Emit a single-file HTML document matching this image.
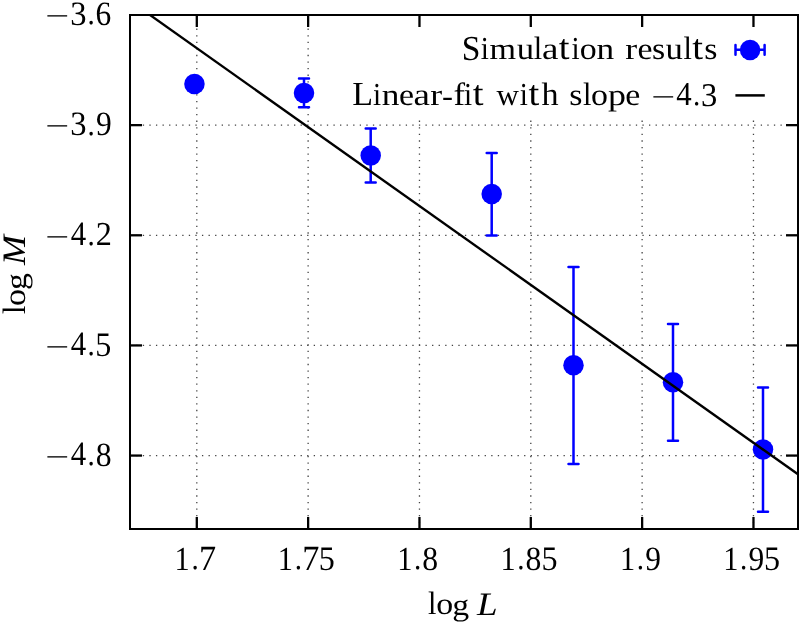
<!DOCTYPE html><html><head><meta charset="utf-8"><style>html,body{margin:0;padding:0;background:#fff}svg{display:block;will-change:transform}text{font-family:"Liberation Serif",serif;font-size:32.8px;fill:#000;font-variant-ligatures:none;font-kerning:none;text-rendering:geometricPrecision}</style></head><body>
<svg width="802" height="625" viewBox="0 0 802 625">
<rect width="802" height="625" fill="#fff"/>
<g stroke="#444" stroke-width="1.3" stroke-dasharray="1.3 5.274" fill="none">
<g stroke-dashoffset="0.5">
<line x1="196.80" y1="529" x2="196.80" y2="15"/>
<line x1="308.13" y1="529" x2="308.13" y2="15"/>
<line x1="419.47" y1="529" x2="419.47" y2="15"/>
<line x1="530.80" y1="529" x2="530.80" y2="15"/>
<line x1="642.13" y1="529" x2="642.13" y2="15"/>
<line x1="753.47" y1="529" x2="753.47" y2="15"/>
</g><g stroke-dashoffset="0.35">
<line x1="130" y1="125.14" x2="798" y2="125.14"/>
<line x1="130" y1="235.29" x2="798" y2="235.29"/>
<line x1="130" y1="345.43" x2="798" y2="345.43"/>
<line x1="130" y1="455.57" x2="798" y2="455.57"/>
</g></g>
<rect x="335" y="16" width="462" height="102" fill="#fff"/>
<g stroke="#000" stroke-width="2.3" fill="none">
<line x1="196.80" y1="529" x2="196.80" y2="517.0"/><line x1="196.80" y1="15" x2="196.80" y2="27.0"/>
<line x1="308.13" y1="529" x2="308.13" y2="517.0"/><line x1="308.13" y1="15" x2="308.13" y2="27.0"/>
<line x1="419.47" y1="529" x2="419.47" y2="517.0"/><line x1="419.47" y1="15" x2="419.47" y2="27.0"/>
<line x1="530.80" y1="529" x2="530.80" y2="517.0"/><line x1="530.80" y1="15" x2="530.80" y2="27.0"/>
<line x1="642.13" y1="529" x2="642.13" y2="517.0"/><line x1="642.13" y1="15" x2="642.13" y2="27.0"/>
<line x1="753.47" y1="529" x2="753.47" y2="517.0"/><line x1="753.47" y1="15" x2="753.47" y2="27.0"/>
<line x1="130" y1="125.14" x2="142.0" y2="125.14"/><line x1="798" y1="125.14" x2="786.0" y2="125.14"/>
<line x1="130" y1="235.29" x2="142.0" y2="235.29"/><line x1="798" y1="235.29" x2="786.0" y2="235.29"/>
<line x1="130" y1="345.43" x2="142.0" y2="345.43"/><line x1="798" y1="345.43" x2="786.0" y2="345.43"/>
<line x1="130" y1="455.57" x2="142.0" y2="455.57"/><line x1="798" y1="455.57" x2="786.0" y2="455.57"/>
<rect x="130" y="15" width="668" height="514" stroke-width="2"/>
</g>
<g stroke="#0000ff" stroke-width="2.5" stroke-linecap="round" fill="none">
<path d="M304.0 78.4V107.35M299.0 78.4H309.0M299.0 107.35H309.0"/>
<path d="M370.7 128.45V182.6M365.7 128.45H375.7M365.7 182.6H375.7"/>
<path d="M491.7 152.9V235.5M486.7 152.9H496.7M486.7 235.5H496.7"/>
<path d="M573.5 266.9V463.9M568.5 266.9H578.5M568.5 463.9H578.5"/>
<path d="M673.0 323.9V440.85M668.0 323.9H678.0M668.0 440.85H678.0"/>
<path d="M763.0 387.5V511.8M758.0 387.5H768.0M758.0 511.8H768.0"/>
</g>
<g fill="#0000ff">
<circle cx="194.45" cy="83.9" r="10.25"/>
<circle cx="304.0" cy="93.0" r="10.25"/>
<circle cx="370.7" cy="155.6" r="10.25"/>
<circle cx="491.7" cy="194.0" r="10.25"/>
<circle cx="573.5" cy="365.2" r="10.25"/>
<circle cx="673.0" cy="382.2" r="10.25"/>
<circle cx="763.0" cy="449.6" r="10.25"/>
</g>
<clipPath id="c"><rect x="130" y="15" width="668" height="514"/></clipPath>
<line x1="128.86" y1="0" x2="810" y2="482.8" stroke="#000" stroke-width="2.35" clip-path="url(#c)"/>
<g stroke="#0000ff" stroke-width="2.5" stroke-linecap="round" fill="none"><path d="M735.5 49.8H764.6M735.5 45.0V54.7M764.6 45.0V54.7"/></g>
<circle cx="750.1" cy="50.05" r="10.25" fill="#0000ff"/>
<line x1="735.4" y1="95.4" x2="764.8" y2="95.4" stroke="#000" stroke-width="2.5"/>
<text><tspan x="461.79" y="59.62" font-size="35.06" textLength="18.68" lengthAdjust="spacingAndGlyphs">S</tspan><tspan x="480.69" y="59.25" font-size="32.15" textLength="8.10" lengthAdjust="spacingAndGlyphs">i</tspan><tspan x="489.56" y="59.25" font-size="30.39" textLength="26.55" lengthAdjust="spacingAndGlyphs">m</tspan><tspan x="516.81" y="59.30" font-size="31.31" textLength="17.35" lengthAdjust="spacingAndGlyphs">u</tspan><tspan x="533.80" y="59.25" font-size="32.41" textLength="8.40" lengthAdjust="spacingAndGlyphs">l</tspan><tspan x="542.08" y="59.30" font-size="31.05" textLength="16.42" lengthAdjust="spacingAndGlyphs">a</tspan><tspan x="558.78" y="59.26" font-size="35.41" textLength="10.75" lengthAdjust="spacingAndGlyphs">t</tspan><tspan x="571.60" y="59.25" font-size="32.15" textLength="8.10" lengthAdjust="spacingAndGlyphs">i</tspan><tspan x="579.77" y="59.30" font-size="30.92" textLength="16.93" lengthAdjust="spacingAndGlyphs">o</tspan><tspan x="596.58" y="59.25" font-size="30.39" textLength="17.64" lengthAdjust="spacingAndGlyphs">n</tspan><tspan x="614.37" y="59.25"> </tspan><tspan x="625.35" y="59.25" font-size="30.39" textLength="11.92" lengthAdjust="spacingAndGlyphs">r</tspan><tspan x="637.44" y="59.30" font-size="30.92" textLength="15.04" lengthAdjust="spacingAndGlyphs">e</tspan><tspan x="651.92" y="59.30" font-size="30.92" textLength="13.21" lengthAdjust="spacingAndGlyphs">s</tspan><tspan x="665.59" y="59.30" font-size="31.31" textLength="17.35" lengthAdjust="spacingAndGlyphs">u</tspan><tspan x="683.49" y="59.25" font-size="32.41" textLength="8.40" lengthAdjust="spacingAndGlyphs">l</tspan><tspan x="692.27" y="59.26" font-size="35.41" textLength="10.75" lengthAdjust="spacingAndGlyphs">t</tspan><tspan x="704.31" y="59.30" font-size="30.92" textLength="13.21" lengthAdjust="spacingAndGlyphs">s</tspan></text>
<text><tspan x="352.32" y="105.40" font-size="33.80" textLength="20.82" lengthAdjust="spacingAndGlyphs">L</tspan><tspan x="372.94" y="105.40" font-size="32.15" textLength="8.10" lengthAdjust="spacingAndGlyphs">i</tspan><tspan x="381.72" y="105.40" font-size="30.39" textLength="17.64" lengthAdjust="spacingAndGlyphs">n</tspan><tspan x="399.09" y="105.45" font-size="30.92" textLength="15.04" lengthAdjust="spacingAndGlyphs">e</tspan><tspan x="413.62" y="105.45" font-size="31.05" textLength="16.42" lengthAdjust="spacingAndGlyphs">a</tspan><tspan x="430.28" y="105.40" font-size="30.39" textLength="11.92" lengthAdjust="spacingAndGlyphs">r</tspan><tspan x="441.92" y="105.51" font-size="30.18" textLength="11.01" lengthAdjust="spacingAndGlyphs">-</tspan><tspan x="453.58" y="105.40" font-size="32.44" textLength="11.57" lengthAdjust="spacingAndGlyphs">f</tspan><tspan x="463.95" y="105.40" font-size="32.15" textLength="8.10" lengthAdjust="spacingAndGlyphs">i</tspan><tspan x="472.74" y="105.41" font-size="35.41" textLength="10.75" lengthAdjust="spacingAndGlyphs">t</tspan><tspan x="485.10" y="105.4"> </tspan><tspan x="496.45" y="105.46" font-size="30.55" textLength="22.36" lengthAdjust="spacingAndGlyphs">w</tspan><tspan x="519.74" y="105.40" font-size="32.15" textLength="8.10" lengthAdjust="spacingAndGlyphs">i</tspan><tspan x="528.53" y="105.41" font-size="35.41" textLength="10.75" lengthAdjust="spacingAndGlyphs">t</tspan><tspan x="541.60" y="105.40" font-size="32.41" textLength="17.08" lengthAdjust="spacingAndGlyphs">h</tspan><tspan x="558.91" y="105.4"> </tspan><tspan x="569.38" y="105.45" font-size="30.92" textLength="13.21" lengthAdjust="spacingAndGlyphs">s</tspan><tspan x="582.93" y="105.40" font-size="32.41" textLength="8.40" lengthAdjust="spacingAndGlyphs">l</tspan><tspan x="591.09" y="105.45" font-size="30.92" textLength="16.93" lengthAdjust="spacingAndGlyphs">o</tspan><tspan x="608.00" y="105.28" font-size="30.18" textLength="17.95" lengthAdjust="spacingAndGlyphs">p</tspan><tspan x="625.27" y="105.45" font-size="30.92" textLength="15.04" lengthAdjust="spacingAndGlyphs">e</tspan><tspan x="640.98" y="105.4"> </tspan><tspan x="651.34" y="106.13" font-size="27.5" textLength="23.99" lengthAdjust="spacingAndGlyphs">−</tspan><tspan x="676.29" y="105.40" font-size="33.33" textLength="15.44" lengthAdjust="spacingAndGlyphs">4</tspan><tspan x="693.06" y="105.04" font-size="30.18" textLength="7.27" lengthAdjust="spacingAndGlyphs">.</tspan><tspan x="701.00" y="105.79" font-size="33.18" textLength="16.28" lengthAdjust="spacingAndGlyphs">3</tspan></text>
<text><tspan x="174.56" y="569.50" font-size="33.67" textLength="15.19" lengthAdjust="spacingAndGlyphs">1</tspan><tspan x="191.42" y="569.06" font-size="31.08" textLength="7.27" lengthAdjust="spacingAndGlyphs">.</tspan><tspan x="199.11" y="570.21" font-size="35.57" textLength="17.15" lengthAdjust="spacingAndGlyphs">7</tspan></text>
<text><tspan x="277.79" y="569.50" font-size="33.67" textLength="15.19" lengthAdjust="spacingAndGlyphs">1</tspan><tspan x="294.65" y="569.06" font-size="31.08" textLength="7.27" lengthAdjust="spacingAndGlyphs">.</tspan><tspan x="302.34" y="570.21" font-size="35.57" textLength="17.15" lengthAdjust="spacingAndGlyphs">7</tspan><tspan x="318.74" y="569.88" font-size="34.55" textLength="16.05" lengthAdjust="spacingAndGlyphs">5</tspan></text>
<text><tspan x="397.23" y="569.50" font-size="33.67" textLength="15.19" lengthAdjust="spacingAndGlyphs">1</tspan><tspan x="414.08" y="569.06" font-size="31.08" textLength="7.27" lengthAdjust="spacingAndGlyphs">.</tspan><tspan x="422.37" y="569.88" font-size="34.02" textLength="15.86" lengthAdjust="spacingAndGlyphs">8</tspan></text>
<text><tspan x="500.46" y="569.50" font-size="33.67" textLength="15.19" lengthAdjust="spacingAndGlyphs">1</tspan><tspan x="517.32" y="569.06" font-size="31.08" textLength="7.27" lengthAdjust="spacingAndGlyphs">.</tspan><tspan x="525.61" y="569.88" font-size="34.02" textLength="15.86" lengthAdjust="spacingAndGlyphs">8</tspan><tspan x="541.41" y="569.88" font-size="34.55" textLength="16.05" lengthAdjust="spacingAndGlyphs">5</tspan></text>
<text><tspan x="619.89" y="569.50" font-size="33.67" textLength="15.19" lengthAdjust="spacingAndGlyphs">1</tspan><tspan x="636.75" y="569.06" font-size="31.08" textLength="7.27" lengthAdjust="spacingAndGlyphs">.</tspan><tspan x="645.23" y="569.88" font-size="34.17" textLength="15.75" lengthAdjust="spacingAndGlyphs">9</tspan></text>
<text><tspan x="723.13" y="569.50" font-size="33.67" textLength="15.19" lengthAdjust="spacingAndGlyphs">1</tspan><tspan x="739.98" y="569.06" font-size="31.08" textLength="7.27" lengthAdjust="spacingAndGlyphs">.</tspan><tspan x="748.47" y="569.88" font-size="34.17" textLength="15.75" lengthAdjust="spacingAndGlyphs">9</tspan><tspan x="764.08" y="569.88" font-size="34.55" textLength="16.05" lengthAdjust="spacingAndGlyphs">5</tspan></text>
<text><tspan x="45.26" y="25.23" font-size="27.5" textLength="23.99" lengthAdjust="spacingAndGlyphs">−</tspan><tspan x="70.20" y="25.28" font-size="34.17" textLength="16.28" lengthAdjust="spacingAndGlyphs">3</tspan><tspan x="87.46" y="24.46" font-size="31.08" textLength="7.27" lengthAdjust="spacingAndGlyphs">.</tspan><tspan x="95.61" y="25.28" font-size="34.17" textLength="15.74" lengthAdjust="spacingAndGlyphs">6</tspan></text>
<text><tspan x="45.26" y="135.37" font-size="27.5" textLength="23.99" lengthAdjust="spacingAndGlyphs">−</tspan><tspan x="70.20" y="135.42" font-size="34.17" textLength="16.28" lengthAdjust="spacingAndGlyphs">3</tspan><tspan x="87.46" y="134.60" font-size="31.08" textLength="7.27" lengthAdjust="spacingAndGlyphs">.</tspan><tspan x="95.95" y="135.42" font-size="34.17" textLength="15.75" lengthAdjust="spacingAndGlyphs">9</tspan></text>
<text><tspan x="45.26" y="245.52" font-size="27.5" textLength="23.99" lengthAdjust="spacingAndGlyphs">−</tspan><tspan x="70.70" y="245.19" font-size="34.33" textLength="15.44" lengthAdjust="spacingAndGlyphs">4</tspan><tspan x="87.46" y="244.75" font-size="31.08" textLength="7.27" lengthAdjust="spacingAndGlyphs">.</tspan><tspan x="95.80" y="245.19" font-size="33.57" textLength="16.12" lengthAdjust="spacingAndGlyphs">2</tspan></text>
<text><tspan x="45.26" y="355.66" font-size="27.5" textLength="23.99" lengthAdjust="spacingAndGlyphs">−</tspan><tspan x="70.70" y="355.33" font-size="34.33" textLength="15.44" lengthAdjust="spacingAndGlyphs">4</tspan><tspan x="87.46" y="354.89" font-size="31.08" textLength="7.27" lengthAdjust="spacingAndGlyphs">.</tspan><tspan x="95.36" y="355.71" font-size="34.55" textLength="16.05" lengthAdjust="spacingAndGlyphs">5</tspan></text>
<text><tspan x="45.26" y="465.80" font-size="27.5" textLength="23.99" lengthAdjust="spacingAndGlyphs">−</tspan><tspan x="70.70" y="465.47" font-size="34.33" textLength="15.44" lengthAdjust="spacingAndGlyphs">4</tspan><tspan x="87.46" y="465.03" font-size="31.08" textLength="7.27" lengthAdjust="spacingAndGlyphs">.</tspan><tspan x="95.75" y="465.85" font-size="34.02" textLength="15.86" lengthAdjust="spacingAndGlyphs">8</tspan></text>
<text><tspan x="427.99" y="614.30" font-size="32.41" textLength="8.40" lengthAdjust="spacingAndGlyphs">l</tspan><tspan x="436.16" y="614.35" font-size="30.92" textLength="16.93" lengthAdjust="spacingAndGlyphs">o</tspan><tspan x="452.19" y="614.79" font-size="30.18" textLength="16.90" lengthAdjust="spacingAndGlyphs">g</tspan><tspan x="468.94" y="614.3"> </tspan><tspan x="476.93" y="614.5" font-style="italic" textLength="20.62" lengthAdjust="spacingAndGlyphs">L</tspan></text>
<text transform="rotate(-90)"><tspan x="-314.11" y="25.00" font-size="32.41" textLength="8.40" lengthAdjust="spacingAndGlyphs">l</tspan><tspan x="-305.94" y="25.05" font-size="30.92" textLength="16.93" lengthAdjust="spacingAndGlyphs">o</tspan><tspan x="-289.91" y="25.49" font-size="30.18" textLength="16.90" lengthAdjust="spacingAndGlyphs">g</tspan><tspan x="-273.16" y="25.0"> </tspan><tspan x="-264.98" y="25.0" font-style="italic" textLength="29.93" lengthAdjust="spacingAndGlyphs">M</tspan></text>
</svg></body></html>
